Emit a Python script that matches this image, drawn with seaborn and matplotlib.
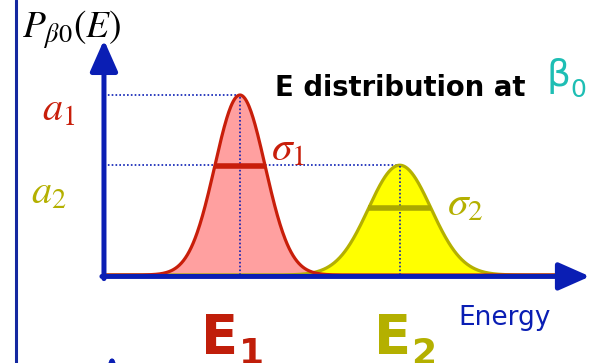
import numpy as np
import pandas as pd
import matplotlib
matplotlib.use("Agg")
import matplotlib.pyplot as plt
import seaborn as sns

# Two energy peaks (energy in arbitrary units, height relative to a1)
PEAKS = ["E1", "E2"]
CENTERS = [2.0, 4.35]
SIGMAS = [0.37, 0.46]
AMPLITUDES = [1.0, 0.61]

# styling
BLUE = "#0A1EB4"
LINE_COLORS = {"E1": "#C81E0A", "E2": "#B4B000"}
FILL_COLORS = {"E1": "#FFA0A0", "E2": "#FFFF00"}
BAR_COLORS = {"E1": "#C81E0A", "E2": "#AAA800"}
TEAL = "#1EBEB4"


def main():
    sns.set_theme(style="white")
    plt.rcParams["font.family"] = ["DejaVu Sans"]
    plt.rcParams["mathtext.fontset"] = "stix"

    energy = np.linspace(0, 6.75, 700)
    frames = []
    for name, mu, sig, amp in zip(PEAKS, CENTERS, SIGMAS, AMPLITUDES):
        frames.append(pd.DataFrame({
            "Energy": energy,
            "P": amp * np.exp(-0.5 * ((energy - mu) / sig) ** 2),
            "peak": name,
        }))
    df = pd.concat(frames, ignore_index=True)

    fig = plt.figure(figsize=(5.95, 3.63), dpi=100)
    ax = fig.add_axes([0, 0, 1, 1])
    ax.set_xlim(-1.529, 7.221)
    ax.set_ylim(-0.489, 1.528)
    ax.axis("off")

    # filled curves (yellow first so the red tail lies on top)
    for name in PEAKS[::-1]:
        sub = df[df["peak"] == name]
        ax.fill_between(sub["Energy"], 0, sub["P"], color=FILL_COLORS[name], lw=0, zorder=1)
    sns.lineplot(data=df, x="Energy", y="P", hue="peak", hue_order=PEAKS[::-1],
                 palette=LINE_COLORS, lw=2.3, legend=False, ax=ax, zorder=2)

    # dotted guides: height levels and peak positions
    dot = dict(color=BLUE, lw=1.2, ls=(0, (1, 1.3)), zorder=1.5)
    for mu, amp in zip(CENTERS, AMPLITUDES):
        ax.plot([0, mu], [amp, amp], **dot)
    for mu, amp in zip(CENTERS, AMPLITUDES):
        ax.plot([mu, mu], [0, amp], **dict(dot, zorder=3))

    # sigma bars
    for name, mu, sig, amp in zip(PEAKS, CENTERS, SIGMAS, AMPLITUDES):
        y = amp * np.exp(-0.5)
        ax.plot([mu - sig, mu + sig], [y, y], color=BAR_COLORS[name], lw=4, zorder=4,
                solid_capstyle="butt")

    # axes arrows
    arrow = dict(arrowstyle="-|>,head_length=0.95,head_width=0.42", color=BLUE,
                 lw=3.6, mutation_scale=20, shrinkA=0, shrinkB=0)
    ax.annotate("", xy=(7.147, -0.008), xytext=(-0.03, -0.008), arrowprops=arrow, zorder=5)
    ax.annotate("", xy=(0, 1.306), xytext=(0, -0.02), arrowprops=arrow, zorder=5)
    ax.annotate("", xy=(0.118, -0.444), xytext=(0.118, -0.9), arrowprops=arrow,
                annotation_clip=False, zorder=5)
    ax.axvline(-1.294, color="#1428A0", lw=2.2)

    def fx(px):
        return px / 595

    def fy(py):
        return 1 - py / 363

    tr = ax.transAxes
    ax.text(fx(22), fy(30), r"$P_{\beta 0}(E)$", transform=tr, fontsize=27,
            ha="left", va="center", color="black")
    ax.text(fx(59), fy(110), r"$a_1$", transform=tr, fontsize=29,
            ha="center", va="center", color=LINE_COLORS["E1"])
    ax.text(fx(49), fy(193), r"$a_2$", transform=tr, fontsize=29,
            ha="center", va="center", color=LINE_COLORS["E2"])
    ax.text(fx(288), fy(148), r"$\sigma_1$", transform=tr, fontsize=30,
            ha="center", va="center", color=LINE_COLORS["E1"])
    ax.text(fx(465), fy(203), r"$\sigma_2$", transform=tr, fontsize=30,
            ha="center", va="center", color=LINE_COLORS["E2"])

    ax.text(fx(275), fy(96), "E distribution at", transform=tr, fontsize=19.8,
            fontweight="bold", ha="left", va="baseline", color="black")
    ax.text(fx(559), fy(76), "β", transform=tr, fontsize=27,
            ha="center", va="center", color=TEAL)
    ax.text(fx(578), fy(90), "0", transform=tr, fontsize=18,
            ha="center", va="center", color=TEAL)

    ax.text(fx(458), fy(325), "Energy", transform=tr, fontsize=19,
            ha="left", va="baseline", color=BLUE)

    ax.text(fx(201), fy(353), "E", transform=tr, fontsize=39, fontweight="bold",
            ha="left", va="baseline", color="#C01E0A")
    ax.text(fx(239), fy(364), "1", transform=tr, fontsize=26, fontweight="bold",
            ha="left", va="baseline", color="#C01E0A")
    ax.text(fx(374), fy(353), "E", transform=tr, fontsize=39, fontweight="bold",
            ha="left", va="baseline", color="#B4B000")
    ax.text(fx(411), fy(364), "2", transform=tr, fontsize=26, fontweight="bold",
            ha="left", va="baseline", color="#B4B000")

    fig.savefig("out.png", dpi=100)
    plt.close(fig)


if __name__ == "__main__":
    main()
